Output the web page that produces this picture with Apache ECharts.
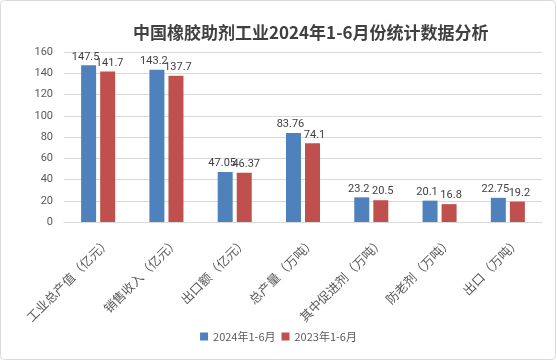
<!DOCTYPE html>
<html><head><meta charset="utf-8">
<script src="https://cdn.jsdelivr.net/npm/echarts@6/dist/echarts.min.js"></script>
<style>html,body{margin:0;padding:0;background:#fff}#c{width:557px;height:361px}</style>
</head><body><div id="c"></div>
<script>
const categories = ['工业总产值（亿元）','销售收入（亿元）','出口额（亿元）','总产量（万吨）','其中促进剂（万吨）','防老剂（万吨）','出口（万吨）'];
const series2024 = [147.5, 143.2, 47.05, 83.76, 23.2, 20.1, 22.75];
const series2023 = [141.7, 137.7, 46.37, 74.1, 20.5, 16.8, 19.2];
const seriesNames = ['2024年1-6月', '2023年1-6月'];
const titleText = '中国橡胶助剂工业2024年1-6月份统计数据分析';

const font = '"Microsoft YaHei","Noto Sans CJK SC",sans-serif';
const numFont = 'Roboto,"Noto Sans",sans-serif';
const chart = echarts.init(document.getElementById('c'), null, {renderer: 'canvas'});
chart.setOption({
  animation: false,
  textStyle: {fontFamily: font},
  graphic: [{type: 'rect', shape: {x: 0.5, y: 0.5, width: 555, height: 359, r: 4}, style: {fill: 'none', stroke: '#d9d9d9', lineWidth: 1}, z: -1}],
  title: {text: titleText, left: 128, top: 19, textStyle: {fontSize: 17, fontWeight: 'bold', color: '#404040', fontFamily: font}},
  legend: {bottom: 14, left: 'center', itemWidth: 8, itemHeight: 8, itemGap: 6, icon: 'rect',
    textStyle: {fontSize: 11, color: '#595959', fontFamily: font}, data: seriesNames},
  grid: {left: 64, right: 15, top: 52, bottom: 139},
  xAxis: {type: 'category', data: categories,
    axisLine: {lineStyle: {color: '#d9d9d9'}}, axisTick: {show: false},
    axisLabel: {rotate: 45, fontSize: 12.5, color: '#595959', interval: 0, margin: 19,
      verticalAlign: 'top', padding: [0, -8, 0, 0]}},
  yAxis: {type: 'value', min: 0, max: 160, interval: 20,
    axisLine: {show: false}, axisTick: {show: false},
    splitLine: {lineStyle: {color: '#d9d9d9'}},
    axisLabel: {fontSize: 11, color: '#595959', margin: 11, fontFamily: numFont}},
  series: [
    {name: seriesNames[0], type: 'bar', data: series2024, barWidth: 15, barGap: '27%',
      itemStyle: {color: '#4F81BD'},
      label: {show: true, position: 'top', fontSize: 11, color: '#404040', distance: 3, fontFamily: numFont, offset: [-3, 0]}},
    {name: seriesNames[1], type: 'bar', data: series2023, barWidth: 15,
      itemStyle: {color: '#C0504D'},
      label: {show: true, position: 'top', fontSize: 11, color: '#404040', distance: 3, fontFamily: numFont, offset: [2, 0]}}
  ]
});
</script></body></html>
